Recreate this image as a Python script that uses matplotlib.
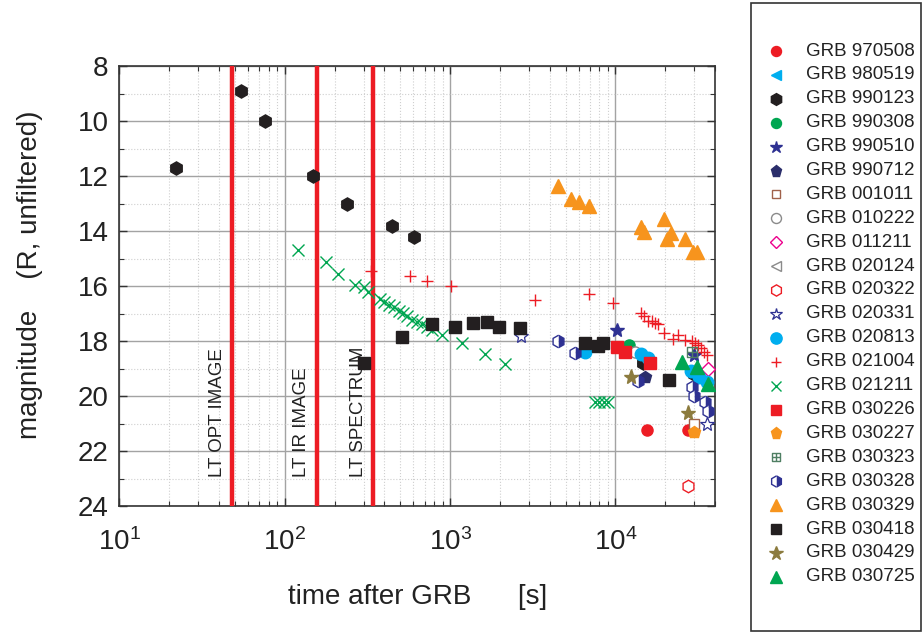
import matplotlib
matplotlib.use("Agg")
import matplotlib.pyplot as plt
from matplotlib.path import Path
from matplotlib.lines import Line2D
from matplotlib.patches import Rectangle
from matplotlib.ticker import MultipleLocator, LogLocator, NullFormatter

plt.rcParams['font.family'] = ['Liberation Sans', 'DejaVu Sans']
plt.rcParams['mathtext.fontset'] = 'custom'
plt.rcParams['mathtext.rm'] = 'Liberation Sans'
plt.rcParams['mathtext.it'] = 'Liberation Sans'

# ---------------- data ----------------
t_970508 = [15500, 27600]
m_970508 = [21.25, 21.25]
t_980519 = [14600]
m_980519 = [18.8]
t_990123 = [22, 54, 76, 149, 239, 448, 601, 14600, 30000]
m_990123 = [11.7, 8.9, 10.0, 12.0, 13.0, 13.8, 14.2, 18.8, 19.2]
t_990308 = [12000]
m_990308 = [18.15]
t_990510 = [10200, 30000]
m_990510 = [17.6, 18.5]
t_990712 = [15100]
m_990712 = [19.3]
t_001011 = [30000]
m_001011 = [21.0]
t_010222 = [13100]
m_010222 = [18.4]
t_011211 = [36200]
m_011211 = [19.02]
t_020124 = [6200]
m_020124 = [18.4]
t_020322 = [27600]
m_020322 = [23.27]
t_020331 = [2700, 35700]
m_020331 = [17.8, 21.0]
t_020813 = [6530, 14300, 15800, 28700, 31800, 35700]
m_020813 = [18.4, 18.47, 18.63, 19.08, 19.32, 19.48]
t_021004 = [330, 571, 721, 1017, 3250, 6890, 9620, 14290, 14950, 15800, 16600,
            17360, 18000, 19770, 22400, 24000, 26400, 28950, 30300, 31500,
            32700, 34250, 35900]
m_021004 = [15.44, 15.62, 15.8, 16.0, 16.51, 16.3, 16.6, 16.99, 17.09, 17.26,
            17.27, 17.33, 17.38, 17.7, 17.92, 17.78, 17.96, 17.99, 18.06, 18.15,
            18.27, 18.39, 18.51]
t_021211 = [120, 178, 209, 267, 300, 320, 379, 397, 426, 456, 489, 520, 550,
            590, 633, 678, 728, 780, 897, 1185, 1618, 2148, 7500, 8000, 8500, 9000]
m_021211 = [14.69, 15.14, 15.55, 15.98, 16.05, 16.2, 16.48, 16.57, 16.68, 16.77,
            16.9, 16.97, 17.09, 17.24, 17.3, 17.38, 17.48, 17.6, 17.78, 18.06,
            18.48, 18.84, 20.2, 20.2, 20.2, 20.2]
t_030226 = [10200, 11400, 16200]
m_030226 = [18.2, 18.4, 18.8]
t_030227 = [30000]
m_030227 = [21.3]
t_030323 = [28950]
m_030323 = [18.4]
t_030328 = [4500, 5700, 13750, 28950, 30000, 34900, 36200]
m_030328 = [18.0, 18.45, 19.44, 19.66, 20.0, 20.2, 20.53]
t_030329 = [4500, 5370, 5980, 6880, 14290, 14960, 19770, 20500, 21700, 26400,
            29640, 31000]
m_030329 = [12.36, 12.85, 12.93, 13.09, 13.87, 14.04, 13.56, 14.28, 14.09, 14.3,
            14.76, 14.76]
t_030418 = [300, 508, 780, 1070, 1380, 1680, 1977, 2640, 6560, 7800, 8360, 21000]
m_030418 = [18.79, 17.84, 17.38, 17.48, 17.33, 17.31, 17.48, 17.51, 18.06, 18.18,
            18.06, 19.42]
t_030429 = [12500, 27600]
m_030429 = [19.3, 20.6]
t_030725 = [25200, 31200, 36200]
m_030725 = [18.75, 18.96, 19.56]

lt_times = [48, 157, 342]
lt_labels = ["LT OPT IMAGE", "LT IR IMAGE", "LT SPECTRUM"]
lt_label_x = [39, 127, 280]

# ---------------- styles ----------------
RED = '#ed1c24'; CYAN = '#00aeef'; BLACK = '#231f20'; GREEN = '#00a651'
NAVY = '#2e3192'; ORANGE = '#f7941d'; OLIVE = '#8c7b3e'; PINK = '#ec008c'
BROWN = '#a0614a'; GRAY = '#8a8a8a'; DKGREEN = '#4f7f63'; DKNAVY = '#2b2e6b'

sqplus = Path([(-1, -1), (1, -1), (1, 1), (-1, 1), (-1, -1), (0, -1), (0, 1), (-1, 0), (1, 0)],
              [Path.MOVETO, Path.LINETO, Path.LINETO, Path.LINETO, Path.CLOSEPOLY,
               Path.MOVETO, Path.LINETO, Path.MOVETO, Path.LINETO])

series = [
    ("GRB 970508", t_970508, m_970508, dict(marker='o', color=RED, ms=8)),
    ("GRB 980519", t_980519, m_980519, dict(marker='<', color=CYAN, ms=8)),
    ("GRB 990123", t_990123, m_990123, dict(marker='h', color=BLACK, ms=9.5)),
    ("GRB 990308", t_990308, m_990308, dict(marker='o', color=GREEN, ms=8)),
    ("GRB 990510", t_990510, m_990510, dict(marker='*', color=NAVY, ms=10)),
    ("GRB 990712", t_990712, m_990712, dict(marker='p', color=DKNAVY, ms=9)),
    ("GRB 001011", t_001011, m_001011, dict(marker='s', color=BROWN, ms=7, mfc='white', mew=1.0)),
    ("GRB 010222", t_010222, m_010222, dict(marker='o', color=GRAY, ms=8, mfc='white', mew=1.0)),
    ("GRB 011211", t_011211, m_011211, dict(marker='D', color=PINK, ms=7, mfc='white', mew=1.0)),
    ("GRB 020124", t_020124, m_020124, dict(marker='<', color=GRAY, ms=8, mfc='none', mew=1.0)),
    ("GRB 020322", t_020322, m_020322, dict(marker='h', color=RED, ms=9, mfc='white', mew=1.0)),
    ("GRB 020331", t_020331, m_020331, dict(marker='*', color=NAVY, ms=10, mfc='white', mew=0.9)),
    ("GRB 020813", t_020813, m_020813, dict(marker='o', color=CYAN, ms=9)),
    ("GRB 021004", t_021004, m_021004, dict(marker='+', color=RED, ms=8, mew=1.0)),
    ("GRB 021211", t_021211, m_021211, dict(marker='x', color=GREEN, ms=8, mew=1.0)),
    ("GRB 030226", t_030226, m_030226, dict(marker='s', color=RED, ms=8)),
    ("GRB 030227", t_030227, m_030227, dict(marker='p', color=ORANGE, ms=9)),
    ("GRB 030323", t_030323, m_030323, dict(marker=sqplus, color=DKGREEN, ms=7, mfc='none', mew=1.0)),
    ("GRB 030328", t_030328, m_030328, dict(marker='h', color=NAVY, ms=9, fillstyle='right',
                                           mfcalt='white', mew=1.0)),
    ("GRB 030329", t_030329, m_030329, dict(marker='^', color=ORANGE, ms=10)),
    ("GRB 030418", t_030418, m_030418, dict(marker='s', color=BLACK, ms=8)),
    ("GRB 030429", t_030429, m_030429, dict(marker='*', color=OLIVE, ms=11)),
    ("GRB 030725", t_030725, m_030725, dict(marker='^', color=GREEN, ms=10)),
]

W, H = 923, 633
fig = plt.figure(figsize=(W / 100, H / 100), dpi=100)
ax = fig.add_axes([119.5 / W, 1 - 506 / H, (715 - 119.5) / W, (506 - 66) / H])

ax.set_xscale('log')
ax.set_xlim(10, 40000)
ax.set_ylim(24, 8)

ax.yaxis.set_major_locator(MultipleLocator(2))
ax.yaxis.set_minor_locator(MultipleLocator(1))
ax.xaxis.set_major_locator(LogLocator(base=10, numticks=10))
ax.xaxis.set_minor_locator(LogLocator(base=10, subs=range(2, 10), numticks=20))
ax.xaxis.set_minor_formatter(NullFormatter())

ax.grid(True, which='major', color='#a3a3a3', lw=1.0, ls='-', zorder=0)
ax.grid(True, which='minor', color='#cfcfcf', lw=0.8, ls=':', zorder=0)
ax.set_axisbelow(True)

ax.tick_params(which='both', direction='in', top=True, right=True, colors='#333333')
ax.tick_params(which='major', length=6, width=1.0, labelsize=20, labelcolor='#222222')
ax.tick_params(which='minor', length=3.5, width=0.8)
ax.tick_params(axis='y', pad=8)
ax.tick_params(axis='x', pad=16)
for s in ax.spines.values():
    s.set_color('#333333')
    s.set_linewidth(1.2)

# LT lines
for tx, lab, lx in zip(lt_times, lt_labels, lt_label_x):
    ax.axvline(tx, color=RED, lw=3.2, zorder=3)
    ax.text(lx, 22.93, lab, rotation=90, ha='center', va='bottom', fontsize=13.5,
            color='#222222', zorder=4)

# data
for i, (name, t, m, st) in enumerate(series):
    st = dict(st)
    color = st.pop('color')
    kw = dict(ls='none', color=color, mec=color)
    if 'mfc' not in st:
        kw['mfc'] = color
    kw.update(st)
    ax.plot(t, m, zorder=5 if name != "GRB 980519" else 4.5, **kw)

ax.set_xlabel("time after GRB      [s]", fontsize=20, color='#222222', labelpad=20)
ax.set_ylabel("magnitude    (R, unfiltered)", fontsize=20, color='#222222')
ax.yaxis.set_label_coords(-0.128, 0.525)

# legend box and entries
fig.add_artist(Rectangle((751 / W, 1 - 631 / H), (921 - 751) / W, (631 - 3) / H,
                         transform=fig.transFigure, fill=False, ec='#333333', lw=1.2))
for i, (name, t, m, st) in enumerate(series):
    st = dict(st)
    color = st.pop('color')
    ms = st.pop('ms') * 0.9
    kw = dict(ls='none', color=color, mec=color)
    if 'mfc' not in st:
        kw['mfc'] = color
    kw.update(st)
    ypix = 51 + i * 23.9
    fig.add_artist(Line2D([776 / W], [1 - ypix / H], ms=ms, transform=fig.transFigure, **kw))
    fig.text(806 / W, 1 - ypix / H, name, fontsize=13.5, va='center', ha='left',
             color='#222222')

fig.savefig("out.png", dpi=100)
